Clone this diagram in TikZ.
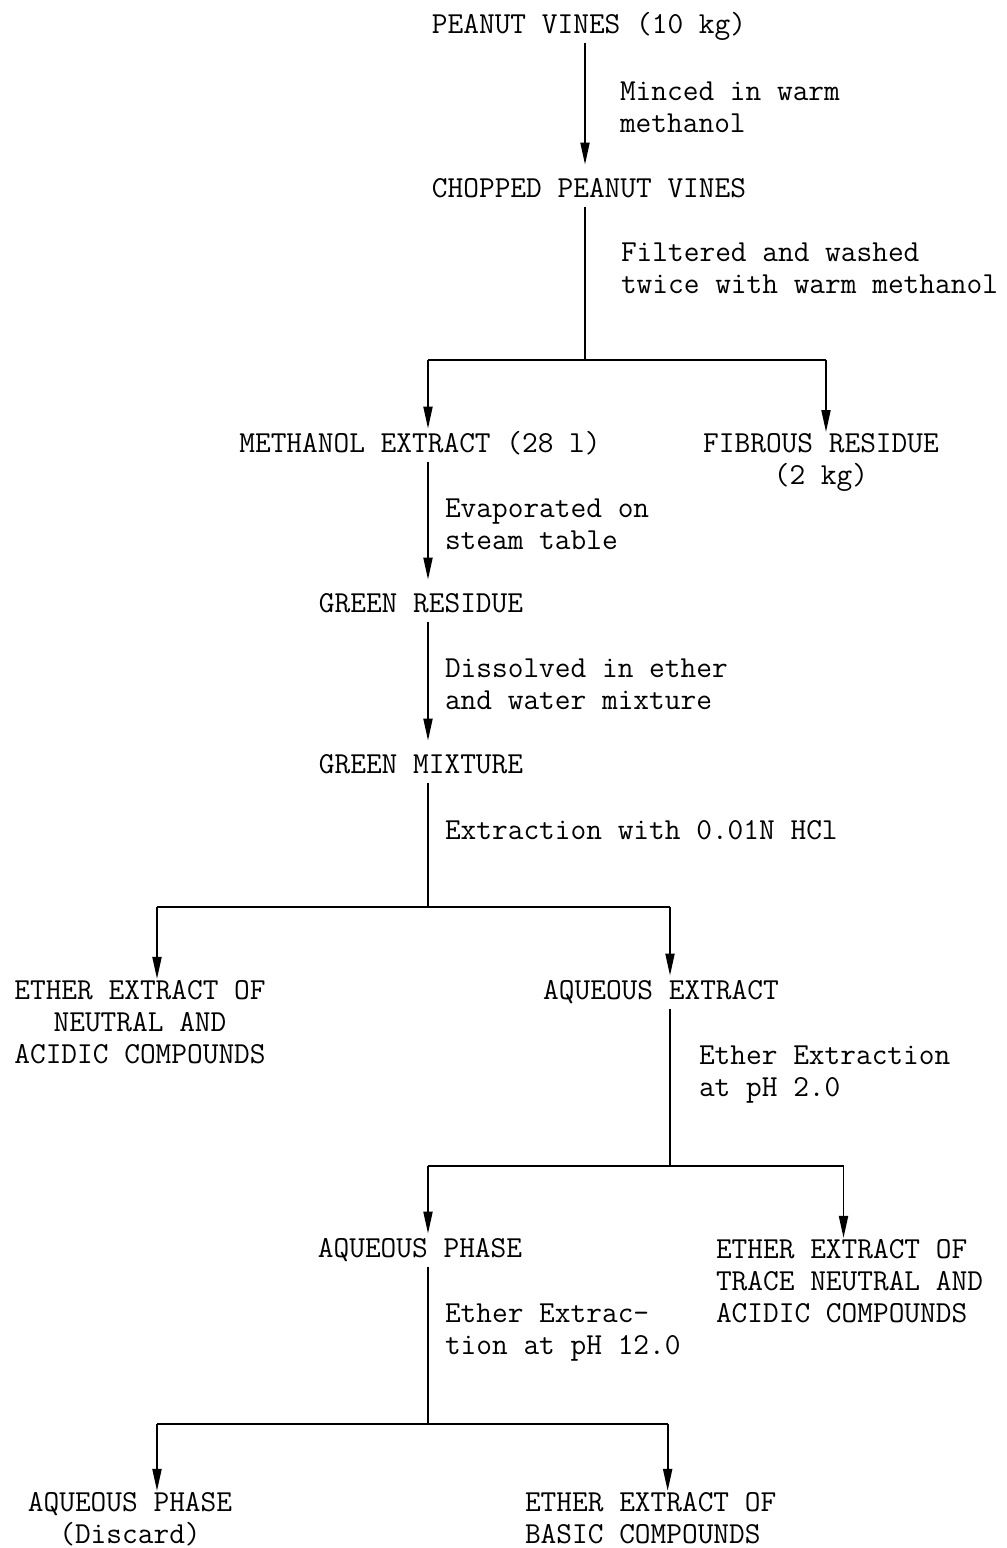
\documentclass[tikz,border=0pt]{standalone}
\usetikzlibrary{arrows.meta}
\begin{document}
\begin{tikzpicture}[x=1pt,y=-1pt,
  txt/.style={inner sep=0pt, outer sep=0pt, anchor=base,
    font=\ttfamily\fontsize{30.5}{32}\selectfont,
    execute at begin node=\strut, execute at end node=\strut},
  lbl/.style={txt, anchor=base west, align=left},
  ln/.style={line width=1.9pt},
  hl/.style={line width=2.8pt},
  arr/.style={ln, -{Triangle[length=22pt,width=9pt]}, shorten >=10pt},
  barr/.style={ln, -{Triangle[length=22pt,width=9pt]}, shorten >=1pt}]
\useasboundingbox (0,0) rectangle (1007,1548);

% nodes (base anchor of multi-line nodes = baseline of last line)
\node[txt] (pv) at (589,33) {PEANUT VINES (10 kg)};
\node[txt] (cpv) at (589,197) {CHOPPED PEANUT VINES};
\node[lbl] (l1) at (620,132) {Minced in warm\\methanol};
\node[lbl] (l2) at (621,293) {Filtered and washed\\twice with warm methanol};
\coordinate (j1) at (585,360);
\node[txt] (me) at (420,452) {METHANOL EXTRACT (28 l)};
\node[txt, align=center] (fr) at (821,484) {FIBROUS RESIDUE\\(2 kg)};
\node[lbl] (l3) at (445,549) {Evaporated on\\steam table};
\node[txt] (gr) at (421,612) {GREEN RESIDUE};
\node[lbl] (l4) at (445,709) {Dissolved in ether\\and water mixture};
\node[txt] (gm) at (421,773) {GREEN MIXTURE};
\node[lbl] (l5) at (445,839) {Extraction with 0.01N HCl};
\coordinate (j2) at (428,907);
\node[txt, align=center] (ee1) at (140,1063) {ETHER EXTRACT OF\\NEUTRAL AND\\ACIDIC COMPOUNDS};
\node[txt] (ae) at (661,999) {AQUEOUS EXTRACT};
\node[lbl] (l6) at (699,1096) {Ether Extraction\\at pH 2.0};
\coordinate (j3) at (670,1166);
\node[txt] (ap) at (420,1257) {AQUEOUS PHASE};
\node[txt, align=left, anchor=base west] (ee2) at (716,1322) {ETHER EXTRACT OF\\TRACE NEUTRAL AND\\ACIDIC COMPOUNDS};
\node[lbl] (l7) at (445,1354) {Ether Extrac-\\tion at pH 12.0};
\coordinate (j4) at (428,1424);
\node[txt, align=center] (ap2) at (130,1543) {AQUEOUS PHASE\\(Discard)};
\node[txt, align=left, anchor=base west] (ee3) at (525,1543) {ETHER EXTRACT OF\\BASIC COMPOUNDS};

% connectors
\draw[arr] ([xshift=-4pt]pv.south) -- ([xshift=-4pt]cpv.north);
\draw[ln] ([xshift=-4pt]cpv.south) -- (j1);
\draw[hl] ([xshift=8pt]me.north |- j1) -- ([xshift=5pt]fr.north |- j1);
\draw[barr] ([xshift=8pt]me.north |- j1) -- ([xshift=8pt]me.north);
\draw[barr] ([xshift=5pt]fr.north |- j1) -- ([xshift=5pt]fr.north);

\draw[arr] ([xshift=8pt]me.south) -- ([xshift=7pt]gr.north);
\draw[arr] ([xshift=7pt]gr.south) -- ([xshift=7pt]gm.north);
\draw[ln] ([xshift=7pt]gm.south) -- (j2);
\draw[hl] ([xshift=17pt]ee1.north |- j2) -- ([xshift=9pt]ae.north |- j2);
\draw[barr] ([xshift=17pt]ee1.north |- j2) -- ([xshift=17pt]ee1.north);
\draw[barr] ([xshift=9pt]ae.north |- j2) -- ([xshift=9pt]ae.north);

\draw[ln] ([xshift=9pt]ae.south) -- (j3);
\draw[hl] ([xshift=8pt]ap.north |- j3) -- ([xshift=-6pt]ee2.north |- j3);
\draw[barr] ([xshift=8pt]ap.north |- j3) -- ([xshift=8pt]ap.north);
\draw[barr] ([xshift=-6pt]ee2.north |- j3) -- ([xshift=-6pt]ee2.north);

\draw[ln] ([xshift=8pt]ap.south) -- (j4);
\draw[hl] ([xshift=27pt]ap2.north |- j4) -- ([xshift=17pt]ee3.north |- j4);
\draw[barr] ([xshift=27pt]ap2.north |- j4) -- ([xshift=27pt]ap2.north);
\draw[barr] ([xshift=17pt]ee3.north |- j4) -- ([xshift=17pt]ee3.north);
\end{tikzpicture}
\end{document}
